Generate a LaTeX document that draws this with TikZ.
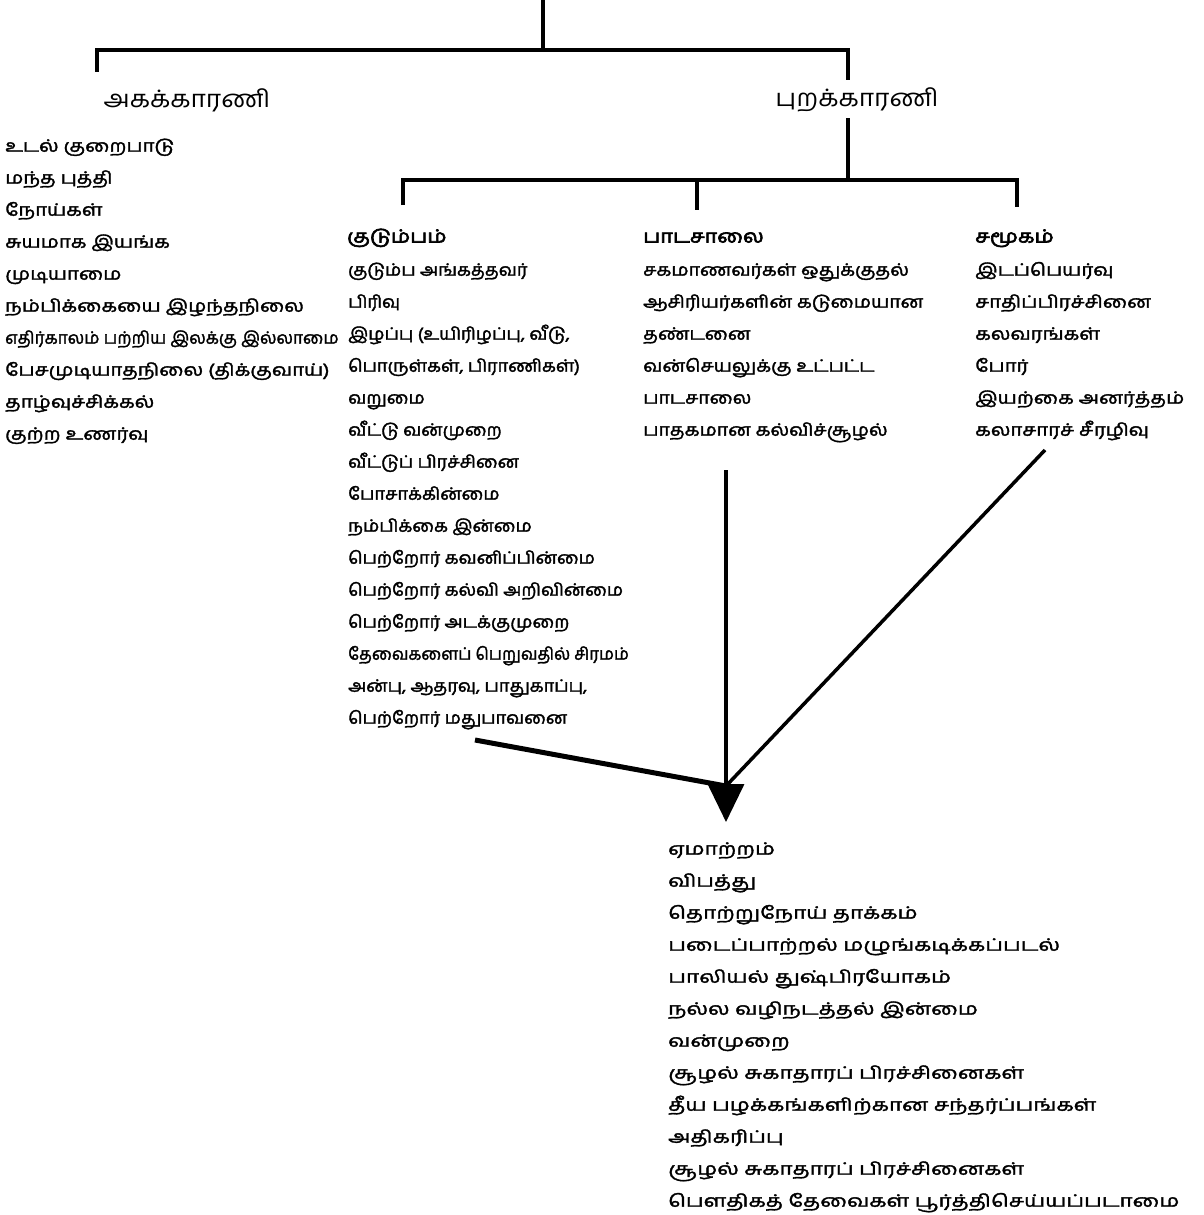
\documentclass[tikz,border=0pt]{standalone}
\usepackage{fontspec}
\usepackage{graphicx}
\usetikzlibrary{arrows.meta}
\newfontfamily\tamL[Script=Tamil,FakeStretch=1.2,FakeBold=2]{Hind Madurai}
\newfontfamily\tamF[Script=Tamil,FakeStretch=1.07,FakeBold=2]{Hind Madurai}
\newfontfamily\tamS[Script=Tamil,FakeStretch=1.14,FakeBold=2]{Hind Madurai}
\newfontfamily\tamC[Script=Tamil,FakeStretch=1.2,FakeBold=2]{Hind Madurai}
\newfontfamily\tamB[Script=Tamil,FakeStretch=1.32,FakeBold=2]{Hind Madurai}
\newfontfamily\tamH[Script=Tamil,FakeStretch=1.2,FakeBold=3.5]{Hind Madurai}
\newfontfamily\tamT[Script=Tamil,FakeStretch=1.1]{Hind Madurai}
\newcommand{\firstrow}{\rule{0pt}{20pt}}
\tikzset{
  conn/.style={line width=3.5pt},
  col/.style={anchor=north west, inner sep=0pt, align=left},
  colL/.style={col, font=\tamL\fontsize{17}{32}\selectfont},
  colF/.style={col, font=\tamF\fontsize{17}{32}\selectfont},
  colS/.style={col, font=\tamS\fontsize{17}{32}\selectfont},
  colC/.style={col, font=\tamC\fontsize{17}{32}\selectfont},
  colB/.style={col, font=\tamB\fontsize{17}{32}\selectfont},
  head/.style={anchor=base west, inner sep=0pt, font=\tamH\fontsize{18}{22}\selectfont},
  toplabel/.style={anchor=center, inner sep=0pt, font=\tamT\fontsize{24}{28}\selectfont},
}
\begin{document}
\begin{tikzpicture}[x=1pt,y=-1pt]
\useasboundingbox[fill=white] (0,0) rectangle (1204,1215);
% tree top
\coordinate (root) at (543,0);
\coordinate (bar1) at (543,50);
\coordinate (bar1l) at (97,50);
\coordinate (bar1r) at (848,50);
\coordinate (d0l) at (97,72);
\coordinate (d0r) at (848,80);
\node[toplabel] (akam) at (187,100) {அகக்காரணி};
\node[toplabel] (puram) at (857,100) {புறக்காரணி};
\draw[conn] (root) -- (bar1);
\draw[conn] (d0l) -- (bar1l) -- (bar1r) -- (d0r);
% second level
\coordinate (p0) at (848,118);
\coordinate (bar2) at (848,180);
\coordinate (bar2l) at (403,180);
\coordinate (bar2m) at (697,180);
\coordinate (bar2r) at (1017,180);
\coordinate (d1) at (403,205);
\coordinate (d2) at (697,210);
\coordinate (d3) at (1017,207);
\draw[conn] (p0) -- (bar2);
\draw[conn] (d1) -- (bar2l) -- (bar2r) -- (d3);
\draw[conn] (bar2m) -- (d2);
% left column
\node[colL] (inner) at (5,131.5) {\firstrow உடல் குறைபாடு\\
மந்த புத்தி\\
நோய்கள்\\
சுயமாக இயங்க\\
முடியாமை\\
நம்பிக்கையை இழந்தநிலை\\
\scalebox{0.84}[1]{எதிர்காலம் பற்றிய இலக்கு இல்லாமை}\\
பேசமுடியாதநிலை (திக்குவாய்)\\
தாழ்வுச்சிக்கல்\\
குற்ற உணர்வு};
% family
\node[head] (famh) at (347,242.5) {குடும்பம்};
\node[colF] (fam) at (348,255.5) {\firstrow குடும்ப அங்கத்தவர்\\
பிரிவு\\
இழப்பு (உயிரிழப்பு, வீடு,\\
பொருள்கள், பிராணிகள்)\\
வறுமை\\
வீட்டு வன்முறை\\
வீட்டுப் பிரச்சினை\\
போசாக்கின்மை\\
நம்பிக்கை இன்மை\\
பெற்றோர் கவனிப்பின்மை\\
பெற்றோர் கல்வி அறிவின்மை\\
பெற்றோர் அடக்குமுறை\\
\scalebox{0.92}[1]{தேவைகளைப் பெறுவதில் சிரமம்}\\
அன்பு, ஆதரவு, பாதுகாப்பு,\\
பெற்றோர் மதுபாவனை};
% school
\node[head] (schh) at (643,242.5) {பாடசாலை};
\node[colS] (sch) at (643,255.5) {\firstrow சகமாணவர்கள் ஒதுக்குதல்\\
ஆசிரியர்களின் கடுமையான\\
தண்டனை\\
வன்செயலுக்கு உட்பட்ட\\
பாடசாலை\\
பாதகமான கல்விச்சூழல்};
% society
\node[head] (soch) at (975,242.5) {சமூகம்};
\node[colC] (soc) at (975,255.5) {\firstrow இடப்பெயர்வு\\
சாதிப்பிரச்சினை\\
கலவரங்கள்\\
போர்\\
இயற்கை அனர்த்தம்\\
கலாசாரச் சீரழிவு};
% arrows
\coordinate (vs) at (726,470);
\coordinate (meet) at (726,786);
\coordinate (tip) at (726,822);
\coordinate (fs) at (475,740);
\coordinate (ss) at (1045,450);
\draw[conn, -{Triangle[length=38pt,width=36pt]}] (vs) -- (tip);
\draw[line width=5pt] (fs) -- (meet);
\draw[conn] (ss) -- (meet);
% outcomes
\node[colB] (out) at (668,834.5) {\firstrow ஏமாற்றம்\\
விபத்து\\
தொற்றுநோய் தாக்கம்\\
படைப்பாற்றல் மழுங்கடிக்கப்படல்\\
பாலியல் துஷ்பிரயோகம்\\
நல்ல வழிநடத்தல் இன்மை\\
வன்முறை\\
சூழல் சுகாதாரப் பிரச்சினைகள்\\
தீய பழக்கங்களிற்கான சந்தர்ப்பங்கள்\\
அதிகரிப்பு\\
சூழல் சுகாதாரப் பிரச்சினைகள்\\
பௌதிகத் தேவைகள் பூர்த்திசெய்யப்படாமை};
\end{tikzpicture}
\end{document}
